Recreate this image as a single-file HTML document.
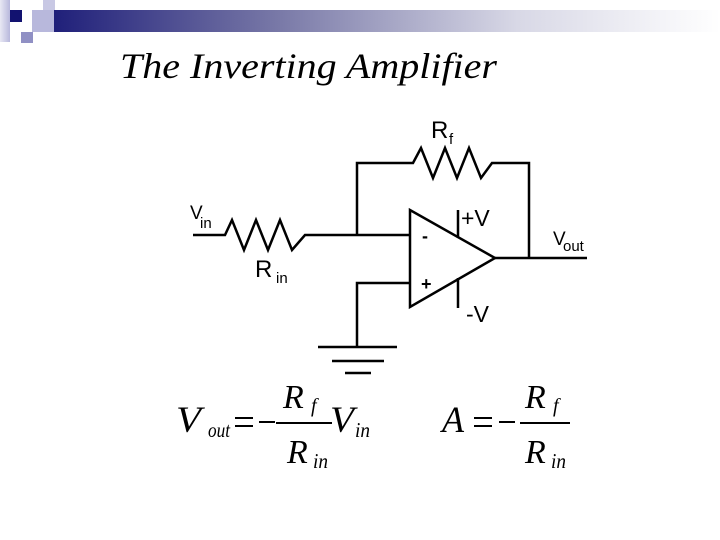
<!DOCTYPE html>
<html><head><style>body{margin:0;background:#fff}svg{display:block}
.s{font-family:"Liberation Sans",Arial,sans-serif}
.r{font-family:"Liberation Serif","Times New Roman",serif;font-style:italic}
</style></head><body>
<svg width="720" height="540" viewBox="0 0 720 540" xmlns="http://www.w3.org/2000/svg">
<defs>
<linearGradient id="bar" x1="0" x2="1" y1="0" y2="0">
<stop offset="0" stop-color="#1c1c78"/><stop offset="0.35" stop-color="#7a7aa8"/><stop offset="0.7" stop-color="#d8d8e6"/><stop offset="1" stop-color="#ffffff"/></linearGradient>
<linearGradient id="sq" x1="0" x2="1"><stop offset="0" stop-color="#e8e8f4"/><stop offset="1" stop-color="#b8b8dc"/></linearGradient>
</defs>
<rect x="45" y="10" width="675" height="22" fill="url(#bar)"/>
<rect x="0" y="0" width="10" height="42" fill="url(#sq)"/>
<rect x="10" y="10" width="12" height="12" fill="#121270"/>
<rect x="32" y="10" width="22" height="22" fill="#b8b8dc"/>
<rect x="43" y="0" width="12" height="10" fill="#c8c8e4"/>
<rect x="21" y="32" width="12" height="11" fill="#9090c4"/>
<text class="r" x="120" y="78" font-size="36" textLength="377" lengthAdjust="spacingAndGlyphs">The Inverting Amplifier</text>
<g stroke="#000" stroke-width="2.5" fill="none" stroke-linejoin="miter">
<polyline points="357,235 357,163 413,163 421,148 433,178 445,148 457,178 469,148 481,178 492,163 529,163 529,258"/>
<polyline points="193,235 225,235 232,220 244,250 256,220 268,250 280,220 292,250 305,235 410,235"/>
<polygon points="410,210 410,307 495,258"/>
<line x1="495" y1="258" x2="587" y2="258"/>
<line x1="458" y1="210" x2="458" y2="238"/>
<line x1="458" y1="278" x2="458" y2="308"/>
<polyline points="410,283 357,283 357,347"/>
<line x1="318" y1="347" x2="397" y2="347"/>
<line x1="332" y1="361" x2="384" y2="361"/>
<line x1="345" y1="373" x2="371" y2="373"/>
</g>
<g class="s" fill="#000">
<text x="431" y="138" font-size="24">R</text><text x="449" y="144" font-size="15">f</text>
<text x="190" y="219" font-size="19">V</text><text x="200" y="228" font-size="15">in</text>
<text x="255" y="277" font-size="24">R</text><text x="276" y="283" font-size="15">in</text>
<text x="553" y="245" font-size="19">V</text><text x="563" y="251" font-size="15">out</text>
<text x="422" y="242" font-size="18" font-weight="bold">-</text>
<text x="421" y="290" font-size="18" font-weight="bold">+</text>
<text x="461" y="226" font-size="23">+V</text>
<text x="466" y="322" font-size="23">-V</text>
</g>
<g class="r" fill="#000">
<text x="176" y="432" font-size="37" textLength="25" lengthAdjust="spacingAndGlyphs">V</text>
<text x="208" y="437" font-size="21" textLength="22" lengthAdjust="spacingAndGlyphs">out</text>
<text x="330" y="432" font-size="37" textLength="24" lengthAdjust="spacingAndGlyphs">V</text>
<text x="355" y="437" font-size="21" textLength="15" lengthAdjust="spacingAndGlyphs">in</text>
<text x="283" y="408" font-size="34">R</text>
<text x="311" y="412" font-size="20">f</text>
<text x="287" y="463" font-size="34">R</text>
<text x="313" y="468" font-size="21" textLength="15" lengthAdjust="spacingAndGlyphs">in</text>
<text x="442" y="432" font-size="37" textLength="22" lengthAdjust="spacingAndGlyphs">A</text>
<text x="525" y="408" font-size="34">R</text>
<text x="553" y="412" font-size="20">f</text>
<text x="525" y="463" font-size="34">R</text>
<text x="551" y="468" font-size="21" textLength="15" lengthAdjust="spacingAndGlyphs">in</text>
</g>
<g stroke="#000" stroke-width="2">
<line x1="235" y1="418" x2="253" y2="418"/><line x1="235" y1="426" x2="253" y2="426"/>
<line x1="259" y1="422" x2="275" y2="422"/>
<line x1="276" y1="423" x2="332" y2="423"/>
<line x1="474" y1="418" x2="492" y2="418"/><line x1="474" y1="426" x2="492" y2="426"/>
<line x1="499" y1="422" x2="515" y2="422"/>
<line x1="520" y1="423" x2="570" y2="423"/>
</g>
</svg>
</body></html>
